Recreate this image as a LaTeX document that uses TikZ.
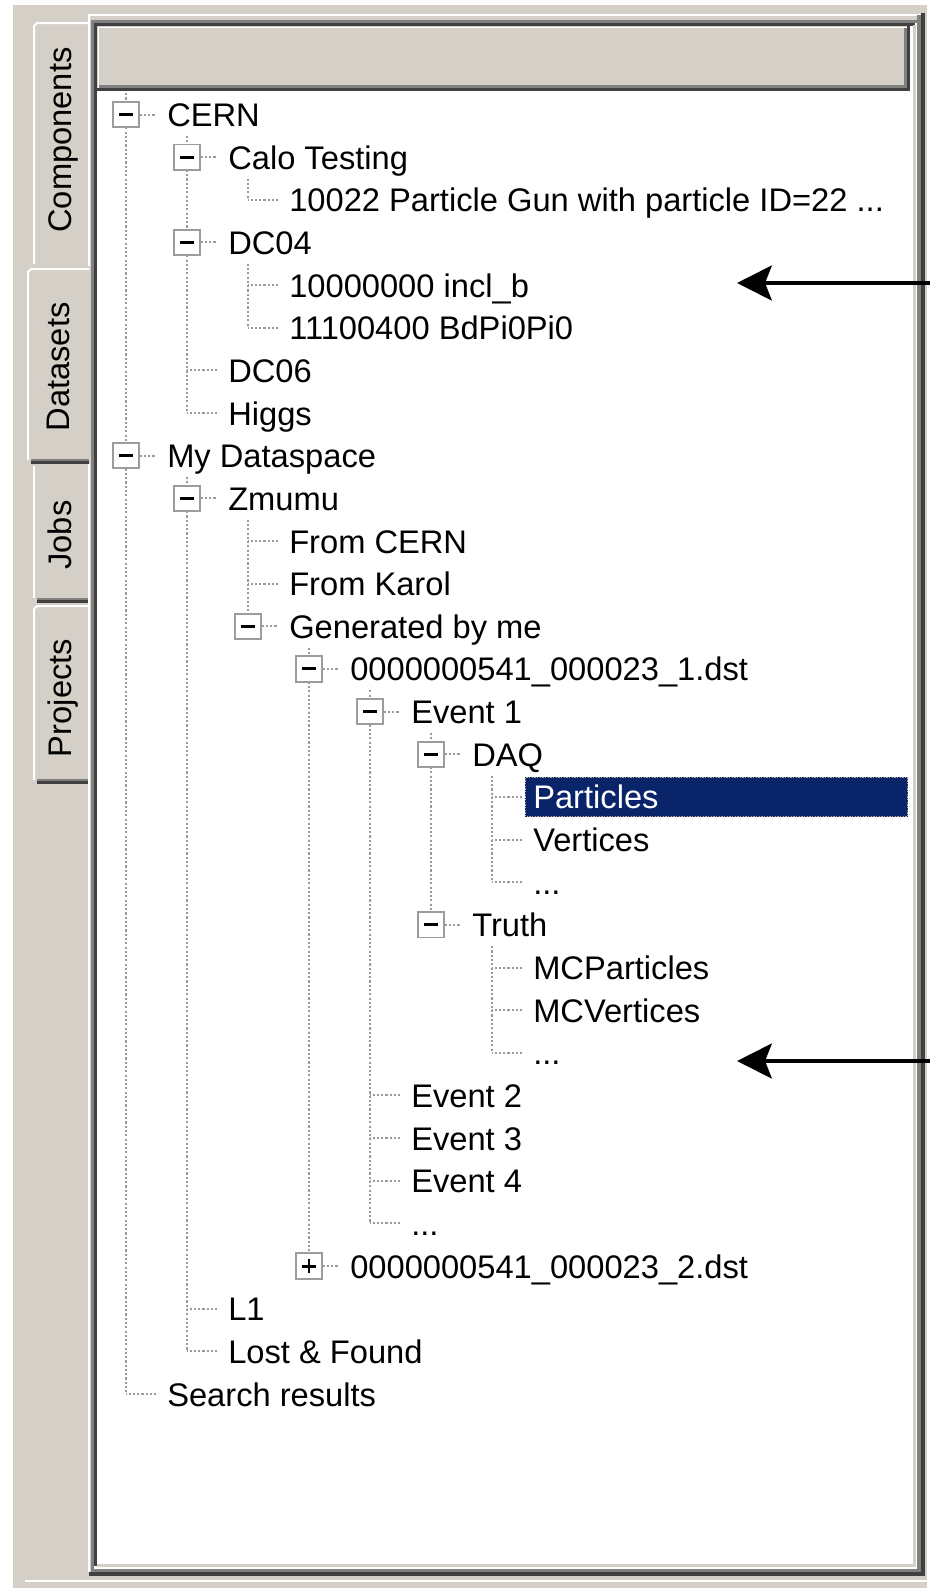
\documentclass[tikz,border=0pt]{standalone}
\usepackage{fontspec}
\setmainfont{Liberation Sans}
\usetikzlibrary{arrows.meta,calc}
\definecolor{winbg}{HTML}{D4D0C8}
\definecolor{windark}{HTML}{404040}
\definecolor{winmid}{HTML}{808080}
\definecolor{treeline}{HTML}{9A9A9A}
\definecolor{boxgrey}{HTML}{9C9C9C}
\definecolor{selblue}{HTML}{0A246A}
\definecolor{focusdot}{HTML}{B8B090}
\def\tdots{...}
\def\tgun{10022 Particle Gun with particle ID=22 ...}
\begin{document}
\begin{tikzpicture}[x={(0.75pt,0)},y={(0,-0.75pt)},
  uifont/.style={font=\fontsize{24.5pt}{29pt}\selectfont},
  treetext/.style={uifont, anchor=west, inner sep=0pt, text height=18pt, text depth=0pt},
  tablabel/.style={uifont, rotate=90, inner sep=0pt, text height=17.5pt, text depth=4.5pt},
  dots/.style={draw=treeline, line width=1.5pt, dash pattern=on 1.6pt off 1.6pt},
  tbox/.style={draw=boxgrey, fill=white, line width=1.4pt, minimum size=19pt, inner sep=0pt},
  minusbox/.style={tbox, path picture={\draw[line width=2.2pt,black]
      ([xshift=-5pt]path picture bounding box.center) -- ([xshift=5pt]path picture bounding box.center);}},
  plusbox/.style={tbox, path picture={\draw[line width=2.2pt,black]
      ([xshift=-5pt]path picture bounding box.center) -- ([xshift=5pt]path picture bounding box.center)
      ([yshift=-5pt]path picture bounding box.center) -- ([yshift=5pt]path picture bounding box.center);}},
  bigarrow/.style={line width=3.6pt, -{Stealth[length=26pt,width=26pt,inset=5pt]}}
]
\useasboundingbox (0,0) rectangle (930,1588);
\fill[white] (0,0) rectangle (930,1588);
\fill[winbg] (13,5) rectangle (927,1588);
\draw[white,line width=1.5pt] (25,1581) -- (927,1581);

% ---- tabs ----
% Components
\fill[winbg] (33,22) rectangle (89,266);
\draw[white,line width=1.5pt] (34,264) -- (34,26) -- (37,23) -- (89,23);
% Datasets (selected)
\fill[winbg] (27,268) rectangle (92,463);
\draw[white,line width=1.5pt] (28,460) -- (28,272) -- (31,269) -- (89,269);
\fill[winmid] (31,459) rectangle (89,461);
\fill[windark] (31,461) rectangle (89,464);
% Jobs
\fill[winbg] (33,466) rectangle (89,602);
\draw[white,line width=1.5pt] (34,598) -- (34,466);
\fill[winmid] (37,598) rectangle (88,600);
\fill[windark] (37,600) rectangle (88,603);
% Projects
\fill[winbg] (33,605) rectangle (89,783);
\draw[white,line width=1.5pt] (34,780) -- (34,609) -- (37,606) -- (89,606);
\fill[winmid] (37,779) rectangle (88,781);
\fill[windark] (37,781) rectangle (88,784);

\node[tablabel] (tabComp) at (62.5,140) {Components};
\node[tablabel] (tabData) at (61,367) {Datasets};
\node[tablabel] (tabJobs) at (62.5,535) {Jobs};
\node[tablabel] (tabProj) at (62.5,698) {Projects};

% ---- tab page border ----
\draw[white,line width=1.5pt] (89,266) -- (89,15) -- (922,15);
\draw[white,line width=1.5pt] (89,1572) -- (89,464);

% ---- tree field ----
\fill[white] (93,22) rectangle (917,1569);
\fill[winmid] (91,20) rectangle (94,1569);
\fill[windark] (94,23) rectangle (97,1566);
\fill[winmid] (91,20) rectangle (917,23);
\fill[windark] (94,23) rectangle (915,26);
\fill[winbg] (913,25) rectangle (916,1567);
\fill[winbg] (97,1564) rectangle (916,1567);
\fill[winmid] (917,15) rectangle (921,1572);
\fill[windark] (921,13) rectangle (925,1576);
\fill[winmid] (91,1569) rectangle (921,1572);
\fill[windark] (89,1572) rectangle (925,1576);

% ---- header ----
\fill[winbg] (97,26) rectangle (910,91);
\draw[white,line width=1.2pt] (98.5,88) -- (98.5,27.5) -- (907,27.5);
\fill[winmid] (99,85) rectangle (907,88);
\fill[winmid] (904,28) rectangle (907,88);
\fill[windark] (97,88) rectangle (910,91);
\fill[windark] (907,26) rectangle (910,91);

% ---- vertical tree lines ----
\draw[dots] (126,93.2) -- (126,1394.0);
\draw[dots] (187,135.8) -- (187,413.05);
\draw[dots] (248,178.5) -- (248,199.8);
\draw[dots] (248,263.8) -- (248,327.75);
\draw[dots] (187,477.0) -- (187,1351.35);
\draw[dots] (248,519.7) -- (248,626.3);
\draw[dots] (309,647.6) -- (309,1266.05);
\draw[dots] (370,690.3) -- (370,1223.4);
\draw[dots] (431,732.9) -- (431,924.85);
\draw[dots] (492,775.6) -- (492,882.2);
\draw[dots] (492,946.2) -- (492,1052.8);

% ---- selection ----
\fill[selblue] (525,777) rectangle (908,817);
\draw[focusdot,line width=1pt,dash pattern=on 1pt off 1pt] (525.5,777.5) rectangle (907.5,816.5);

% ---- tree items: row/level/kind(0 leaf,1 minus,2 plus)/colour/text ----
\foreach \r/\L/\k/\c/\txt in {
  0/0/1/black/CERN,
  1/1/1/black/Calo Testing,
  2/2/0/black/\tgun,
  3/1/1/black/DC04,
  4/2/0/black/10000000 incl\_b,
  5/2/0/black/11100400 BdPi0Pi0,
  6/1/0/black/DC06,
  7/1/0/black/Higgs,
  8/0/1/black/My Dataspace,
  9/1/1/black/Zmumu,
  10/2/0/black/From CERN,
  11/2/0/black/From Karol,
  12/2/1/black/Generated by me,
  13/3/1/black/0000000541\_000023\_1.dst,
  14/4/1/black/Event 1,
  15/5/1/black/DAQ,
  16/6/0/white/Particles,
  17/6/0/black/Vertices,
  18/6/0/black/\tdots,
  19/5/1/black/Truth,
  20/6/0/black/MCParticles,
  21/6/0/black/MCVertices,
  22/6/0/black/\tdots,
  23/4/0/black/Event 2,
  24/4/0/black/Event 3,
  25/4/0/black/Event 4,
  26/4/0/black/\tdots,
  27/3/2/black/0000000541\_000023\_2.dst,
  28/1/0/black/L1,
  29/1/0/black/Lost \& Found,
  30/0/0/black/Search results}
{
  \pgfmathsetmacro\yy{114.5+42.65*\r}
  \pgfmathsetmacro\xx{126+61*\L}
  \node[treetext,text=\c] (t\r) at (\xx+41,\yy) {\txt};
  \ifnum\k=0
    \draw[dots] ([xshift=-8pt]t\r.west) -- ++(-30,0);
  \fi
  \ifnum\k=1
    \node[minusbox] (b\r) at (\xx,\yy) {};
    \draw[dots] (b\r.east) -- ([xshift=-8pt]t\r.west);
  \fi
  \ifnum\k=2
    \node[plusbox] (b\r) at (\xx,\yy) {};
    \draw[dots] (b\r.east) -- ([xshift=-8pt]t\r.west);
  \fi
}

% ---- arrows ----
\coordinate (a1s) at (930,283);
\coordinate (a1e) at (737,283);
\coordinate (a2s) at (930,1061);
\coordinate (a2e) at (737,1061);
\draw[bigarrow] (a1s) -- (a1e);
\draw[bigarrow] (a2s) -- (a2e);
\end{tikzpicture}
\end{document}
